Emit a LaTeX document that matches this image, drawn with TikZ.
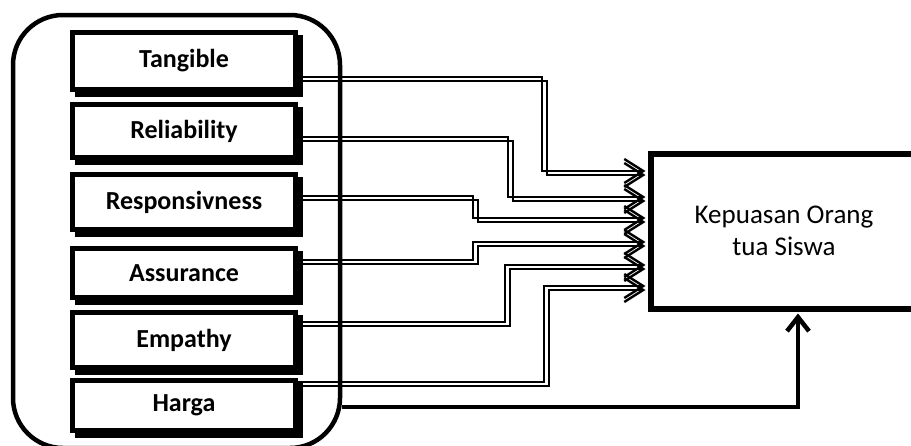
\documentclass[tikz,border=0pt]{standalone}
\usepackage{fontspec}
\setmainfont{Carlito}
\usetikzlibrary{arrows.meta,calc}

% connector: node, start y, turn x, end y (drawn with its offset copy)
\newcommand\linkto[4]{%
  \foreach \ox/\oy in {0/0,5/4}{%
    \draw[conn] ($(#1.east |- 0,#2)+(\ox,\oy)$) -| (#3+\ox,#4+\oy)
      -- ($(kep.west |- 0,#4)+(-2,\oy)$);
  }%
}

\begin{document}
\begin{tikzpicture}[x=1pt,y=-1pt,
  group/.style={draw,line width=4.5pt,rounded corners=50pt,
    minimum width=327pt,minimum height=433pt,inner sep=0pt},
  factor/.style={draw,line width=5pt,fill=white,minimum width=223pt,inner sep=0pt,
    font=\bfseries\fontsize{26}{30}\selectfont,
    preaction={draw=black,fill=black,line width=5pt,
      transform canvas={shift={(5pt,-5pt)}}}},
  target/.style={draw,line width=6pt,minimum width=267pt,minimum height=155pt,
    inner sep=0pt,align=center,font=\fontsize{27}{32}\selectfont},
  conn/.style={line width=2.2pt,-{Straight Barb[length=19pt,width=24pt,line width=2.4pt]}},
  mainconn/.style={line width=4pt,-{Straight Barb[length=14pt,width=22pt,line width=4.5pt]}}]

\useasboundingbox (0,0) rectangle (911,445);

% dimension group
\node[group] (grp) at (176.5,231.5) {};

% dimension boxes
\node[factor,minimum height=57pt] (tan) at (184,61) {Tangible};
\node[factor,minimum height=53pt] (rel) at (184,131) {Reliability};
\node[factor,minimum height=55pt] (res) at (184,202) {Responsivness};
\node[factor,minimum height=49pt] (ass) at (184,273) {Assurance};
\node[factor,minimum height=55pt] (emp) at (184,340) {Empathy};
\node[factor,minimum height=50pt] (har) at (184,405.5) {Harga};

% outcome
\node[target] (kep) at (784,231) {Kepuasan Orang\\tua Siswa};

% individual effects
\linkto{tan}{77}{542}{171}
\linkto{rel}{137}{508}{197}
\linkto{res}{196}{473}{218}
\linkto{ass}{260}{473}{242}
\linkto{emp}{322}{505}{265}
\linkto{har}{382}{544}{286}

% joint effect
\draw[mainconn] (grp.east |- 0,407) -| ($(kep.south -| 798,0)+(0,2)$);

\end{tikzpicture}
\end{document}
